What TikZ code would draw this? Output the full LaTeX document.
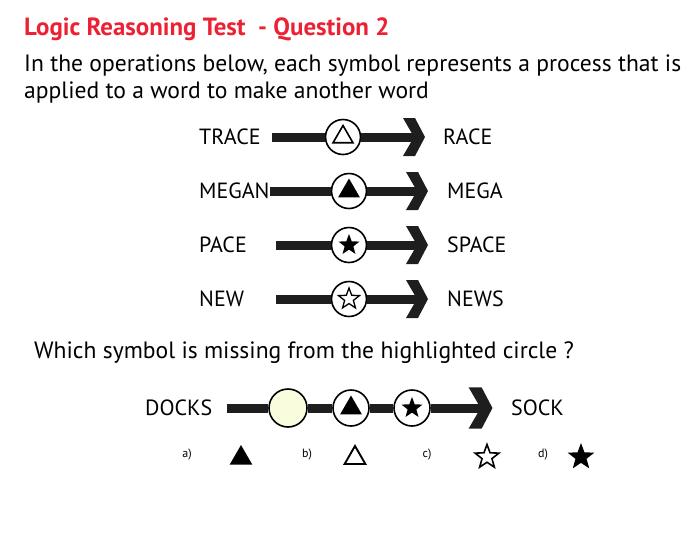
\documentclass[tikz,border=0pt]{standalone}
\usepackage{fontspec}
\setmainfont{PT Sans}
\usetikzlibrary{shapes.geometric}

\definecolor{titlered}{RGB}{236,34,52}
\definecolor{paleyellow}{RGB}{250,252,222}
\definecolor{barblack}{RGB}{30,30,30}

\tikzstyle{word}=[inner sep=0pt, font=\fontsize{22}{26}\selectfont]
\tikzstyle{prose}=[anchor=base west, inner sep=0pt, font=\fontsize{23.6}{28}\selectfont]
\tikzstyle{op}=[circle, draw=black, line width=1.6pt, fill=white, minimum size=35pt, inner sep=0pt]
\tikzstyle{bar}=[draw=barblack, line width=9pt]
\tikzstyle{tri}=[regular polygon, regular polygon sides=3, inner sep=0pt, minimum size=21pt]
\tikzstyle{pentastar}=[star, star points=5, star point ratio=2.4, inner sep=0pt, minimum size=22pt]
\tikzstyle{choice}=[inner sep=0pt, font=\fontsize{12}{14}\selectfont]

\tikzset{chevron/.pic={
  \fill[barblack] (-16,-19) -- (-4,-19) -- (6,0) -- (-4,19) -- (-16,19) -- (-5,0) -- cycle;
}}

\begin{document}
\begin{tikzpicture}[x=1pt, y=-1pt]
\useasboundingbox (0,0) rectangle (697,550);

% heading and question
\node[anchor=base west, inner sep=0pt, text=titlered, font=\bfseries\fontsize{24.9}{29}\selectfont] (title) at (24,35) {Logic Reasoning Test\ \ - Question 2};
\node[prose] (intro1) at (24,71) {In the operations below, each symbol represents a process that is};
\node[prose] (intro2) at (24,98) {applied to a word to make another word};

% TRACE -> RACE
\node[word, anchor=west] (trace) at (199,137) {TRACE};
\node[op] (op1) at (343,137) {};
\node[tri, draw, line width=1.6pt, minimum size=23pt] (sym1) at (op1) {};
\coordinate (s1) at (272,137);
\coordinate (e1) at (419,137);
\draw[bar] (s1) -- (op1.west);
\draw[bar] (op1.east) -- (e1);
\pic at (e1) {chevron};
\node[word, anchor=west] (race) at (443,137) {RACE};

% MEGAN -> MEGA
\node[word, anchor=west] (megan) at (199,191) {MEGAN};
\node[op] (op2) at (349,191) {};
\node[tri, fill=black, minimum size=25pt] (sym2) at (op2) {};
\coordinate (e2) at (422,191);
\draw[bar] (megan.east) -- (op2.west);
\draw[bar] (op2.east) -- (e2);
\pic at (e2) {chevron};
\node[word, anchor=west] (mega) at (447,191) {MEGA};

% PACE -> SPACE
\node[word, anchor=west] (pace) at (199,245) {PACE};
\node[op] (op3) at (349,245) {};
\node[pentastar, fill=black] (sym3) at (op3) {};
\coordinate (s3) at (276,245);
\coordinate (e3) at (422,245);
\draw[bar] (s3) -- (op3.west);
\draw[bar] (op3.east) -- (e3);
\pic at (e3) {chevron};
\node[word, anchor=west] (space) at (447,245) {SPACE};

% NEW -> NEWS
\node[word, anchor=west] (new) at (199,299) {NEW};
\node[op] (op4) at (349,299) {};
\node[pentastar, draw, line width=1.3pt] (sym4) at (op4) {};
\coordinate (s4) at (276,299);
\coordinate (e4) at (422,299);
\draw[bar] (s4) -- (op4.west);
\draw[bar] (op4.east) -- (e4);
\pic at (e4) {chevron};
\node[word, anchor=west] (news) at (447,299) {NEWS};

\node[prose] (ask) at (34,358) {Which symbol is missing from the highlighted circle ?};

% DOCKS -> SOCK
\node[word, anchor=west] (docks) at (145,408) {DOCKS};
\node[op, fill=paleyellow, minimum size=38pt] (gap) at (288,408) {};
\node[op, minimum size=36pt] (op5) at (351,408) {};
\node[tri, fill=black, minimum size=25pt] (sym5) at (op5) {};
\node[op, minimum size=36pt] (op6) at (412,408) {};
\node[pentastar, fill=black] (sym6) at (op6) {};
\coordinate (s5) at (227,408);
\coordinate (e5) at (486,408);
\draw[bar] (s5) -- (gap.west);
\draw[bar] (gap.east) -- (op5.west);
\draw[bar] (op5.east) -- (op6.west);
\draw[bar] (op6.east) -- (e5);
\pic[scale=1.08] at (e5) {chevron};
\node[word, anchor=west] (sock) at (511,408) {SOCK};

% answer choices
\foreach \lbl/\lx in {a/187, b/307, c/427, d/543}{ \node[choice] (opt\lbl) at (\lx,455) {\lbl)}; }
\node[tri, fill=black, minimum size=26pt] (ansa) at (241,458) {};
\node[tri, draw, line width=1.9pt, minimum size=24pt] (ansb) at (355,458) {};
\node[pentastar, draw, line width=1.6pt, minimum size=25pt] (ansc) at (487,457) {};
\node[pentastar, fill=black, minimum size=28pt] (ansd) at (581,457) {};
\end{tikzpicture}
\end{document}
